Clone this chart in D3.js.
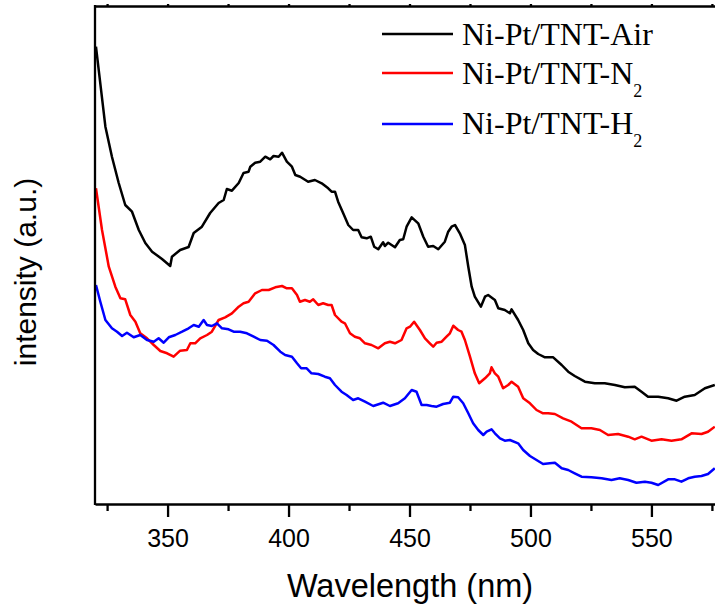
<!DOCTYPE html>
<html>
<head>
<meta charset="utf-8">
<script src="https://cdn.jsdelivr.net/npm/d3@7"></script>
<style>
  body { margin: 0; background: #fff; }
  svg { display: block; }
  .tick text { font-family: "Liberation Sans", Arial, sans-serif; }
</style>
</head>
<body>
<div id="chart"></div>
<script>
// series names for the legend (base text + subscript)
const seriesNames = [["Ni-Pt/TNT-Air", ""], ["Ni-Pt/TNT-N", "2"], ["Ni-Pt/TNT-H", "2"]];
const seriesColors = ["#000000", "#ff0000", "#0000ff"];

// x tick labels
const majorTicks = [350, 400, 450, 500, 550];
const minorTicks = [325, 375, 425, 475, 525, 575];

// Air treated sample
const airWl = [320.4, 324.3, 327.0, 329.8, 332.5, 335.3, 338.1, 340.8, 343.6, 347.7, 351.1, 351.8,
  355.2, 358.7, 360.8, 364.2, 367.6, 371.1, 373.2, 374.5, 376.6, 379.4, 381.4, 383.5, 384.2, 386.2,
  388.3, 390.4, 392.4, 393.8, 395.9, 397.3, 399.3, 401.4, 402.8, 404.8, 408.1, 410.9, 413.7, 416.4,
  417.8, 419.2, 420.5, 422.6, 424.7, 426.7, 428.8, 430.2, 432.3, 434.0, 435.4, 437.1, 439.1, 439.8,
  441.2, 444.0, 446.0, 447.4, 448.8, 450.9, 453.6, 455.7, 457.7, 459.8, 461.9, 464.6, 466.0, 467.4,
  468.8, 470.8, 472.9, 474.3, 475.7, 477.0, 479.5, 481.2, 482.5, 485.3, 486.7, 489.4, 491.5, 492.2,
  494.9, 497.0, 499.1, 501.1, 503.2, 506.0, 509.4, 512.9, 515.6, 518.3, 522.5, 526.6, 530.7, 534.9,
  539.0, 543.1, 545.9, 548.6, 552.8, 556.9, 560.4, 563.8, 567.9, 572.1, 576.2];
const airInt = [457.3, 377.3, 347.3, 321, 299, 292.3, 274, 261, 252.3, 245, 238, 247.3,
  254, 257, 271, 277.3, 291, 301, 304, 315, 313.3, 321, 331, 332.3, 337.3, 341.3,
  342.3, 347.3, 344.7, 348, 347.3, 351.3, 342.3, 337.3, 329, 327.3, 322.3, 324, 320.7, 315.7,
  312.3, 312.3, 302.3, 290.7, 279, 274, 274, 266.7, 265.7, 267.3, 257.3, 254.7, 261.7, 258,
  261.3, 256.7, 264, 264.7, 277.3, 286.7, 280.7, 267.3, 257.3, 258, 254.7, 262.3, 272.3, 277.3,
  279, 270.7, 259, 237.3, 217.3, 207.3, 197.3, 207.3, 209, 204, 195.7, 194, 190.7, 194.7,
  184, 174, 160.7, 154, 150, 146.7, 146.7, 139, 132.3, 128, 122.3, 120.7, 120.7, 119,
  116.7, 117.3, 112.3, 107.3, 107.3, 105.7, 103.3, 107.3, 109, 115.7, 119];

// N2 treated sample
const n2Wl = [320.4, 322.9, 325.7, 328.4, 330.5, 332.5, 334.6, 336.7, 338.7, 341.5, 344.3, 347.0,
  349.8, 352.5, 355.2, 358.0, 359.4, 361.4, 363.5, 366.3, 368.3, 371.1, 373.8, 376.6, 379.4, 381.4,
  383.5, 386.2, 389.0, 391.8, 394.5, 397.3, 399.3, 401.4, 403.5, 404.7, 406.8, 408.8, 410.2, 412.3,
  414.3, 416.4, 417.8, 419.2, 421.9, 423.3, 425.4, 427.4, 429.5, 431.6, 434.3, 437.1, 439.8, 441.9,
  444.0, 446.7, 448.8, 450.2, 451.9, 454.3, 456.4, 458.4, 459.8, 461.2, 463.3, 465.3, 466.7, 468.1,
  470.1, 471.5, 472.9, 475.0, 477.0, 478.8, 481.2, 483.2, 483.9, 485.3, 486.7, 488.7, 490.8, 492.2,
  494.9, 497.0, 499.8, 502.5, 505.2, 507.3, 510.1, 513.5, 517.0, 521.1, 525.2, 528.7, 532.1, 536.2,
  540.4, 543.1, 545.9, 550.0, 554.2, 558.3, 562.4, 566.6, 570.7, 573.4, 576.2];
const n2Int = [315.7, 274, 237.3, 217.3, 205.7, 204.7, 189, 182.3, 170.7, 165.7, 159, 153,
  150.7, 147.3, 153.3, 154, 160.7, 160.7, 165.7, 169, 172.3, 184, 186.7, 190.7, 197.3, 200.7,
  202.3, 210.7, 214, 214, 216.7, 218, 215.7, 215.7, 209, 202.3, 204, 202.3, 204.7, 199,
  200.7, 199, 199, 189, 182.3, 180.7, 170.7, 167.3, 165.7, 160.7, 159, 155.7, 160.7, 162.3,
  160.7, 164, 175.7, 177.3, 182.3, 174, 165.7, 160.7, 157.3, 161.3, 162.3, 167.3, 170.7, 178.3,
  174, 172.3, 164, 147.3, 130.7, 120.7, 125.7, 130.7, 136.7, 130.7, 127.3, 115.7, 119, 122.3,
  117.3, 105.7, 100.7, 94, 90.7, 90.7, 90, 85.7, 82.3, 75.7, 75.7, 74, 69, 70,
  67.3, 64.7, 67.3, 63.3, 64.7, 63.3, 64.7, 70.7, 70, 72.3, 77.3];

// H2 treated sample
const h2Wl = [320.4, 322.2, 324.3, 327.0, 329.1, 331.2, 333.2, 336.0, 338.7, 341.5, 344.3, 346.3,
  348.4, 350.5, 353.2, 356.0, 358.7, 360.8, 362.9, 364.9, 366.3, 368.3, 370.4, 372.5, 375.2, 377.3,
  380.0, 382.8, 385.6, 388.3, 391.1, 393.8, 396.6, 398.6, 401.4, 403.5, 405.2, 407.5, 409.5, 412.3,
  415.0, 417.1, 419.2, 421.9, 424.0, 426.7, 428.8, 431.6, 435.0, 439.1, 441.9, 445.3, 448.1, 450.9,
  452.9, 455.0, 457.1, 459.1, 461.2, 463.9, 466.7, 468.1, 470.1, 472.2, 474.3, 476.3, 478.4, 480.5,
  481.9, 483.9, 485.3, 487.4, 489.4, 491.5, 494.9, 497.0, 499.8, 502.5, 505.2, 508.0, 510.1, 512.9,
  515.6, 518.3, 521.1, 525.2, 529.4, 533.5, 536.9, 540.4, 543.8, 547.3, 550.0, 552.8, 556.9, 559.7,
  562.4, 565.2, 567.9, 570.7, 573.4, 576.2];
const h2Int = [219, 202.3, 184, 175.7, 172.3, 168, 171.3, 166.7, 169, 164, 162.3, 165.7,
  161.3, 166.7, 169, 172.3, 175.7, 179, 177.3, 184, 179, 178, 180.7, 175.7, 174.7, 172.3,
  172.3, 170.7, 167.3, 164, 163.3, 159, 152.3, 149, 147.3, 140.7, 135.7, 135.7, 130.7, 130,
  127.3, 125.7, 119, 112.3, 109, 104, 105.7, 102.3, 98, 101.3, 98, 100.7, 105.7, 114,
  112.3, 99, 99, 98, 97.3, 100, 101.3, 107.3, 106.7, 100.7, 90.7, 80.7, 74, 69,
  72.3, 74.7, 70.7, 65.7, 63.3, 64, 60.7, 54, 48, 44, 40, 40.7, 41.3, 35.7,
  34, 30.7, 27.3, 26.7, 25.7, 24, 25.7, 24, 21.3, 22.3, 21.3, 19, 24.7, 24.7,
  22.3, 25.7, 27.3, 28, 30, 35.7];

const series = [
  { wl: airWl, val: airInt },
  { wl: n2Wl, val: n2Int },
  { wl: h2Wl, val: h2Int }
];

// frame of the plot (right edge runs past the picture)
const plotLeft = 95, plotTop = 6, plotBottom = 504, plotRight = 724;

let svg = d3.select("#chart").append("svg")
  .attr("width", 715)
  .attr("height", 607);

// set the ranges
let x = d3.scaleLinear().domain([320, 580]).range([plotLeft, plotRight]);
let y = d3.scaleLinear().domain([0, 498]).range([plotBottom, plotTop]);

// define the line
let valueline = d3.line()
  .x(d => x(d[0]))
  .y(d => y(d[1]));

// the curves
series.forEach((s, i) => {
  svg.append("path")
    .datum(d3.zip(s.wl, s.val))
    .attr("fill", "none")
    .attr("stroke", seriesColors[i])
    .attr("stroke-width", 2.5)
    .attr("stroke-linejoin", "round")
    .attr("d", valueline);
});

// minor ticks on the bottom
svg.append("g")
  .attr("transform", "translate(0," + plotBottom + ")")
  .call(d3.axisBottom(x).tickValues(minorTicks).tickSize(7).tickFormat(""))
  .call(g => g.select(".domain").remove())
  .call(g => g.selectAll("line").attr("stroke-width", 2.3));

// Add the X Axis
svg.append("g")
  .attr("transform", "translate(0," + plotBottom + ")")
  .call(d3.axisBottom(x).tickValues(majorTicks).tickSize(13).tickPadding(12).tickSizeOuter(0))
  .call(g => g.select(".domain").attr("stroke-width", 2.3))
  .call(g => g.selectAll("line").attr("stroke-width", 2.3))
  .call(g => g.selectAll("text").attr("font-size", 25).attr("fill", "#000"));

// top axis, only tiny tick stubs show
svg.append("g")
  .attr("transform", "translate(0," + plotTop + ")")
  .call(d3.axisTop(x).tickValues(majorTicks.concat(minorTicks)).tickSize(2).tickFormat("").tickSizeOuter(0))
  .call(g => g.selectAll("path, line").attr("stroke-width", 2.3));

// left axis line
svg.append("line")
  .attr("x1", plotLeft).attr("x2", plotLeft)
  .attr("y1", plotTop - 1).attr("y2", plotBottom + 1)
  .attr("stroke", "#000")
  .attr("stroke-width", 2.3);

// axis titles
svg.append("text")
  .attr("x", 410)
  .attr("y", 597)
  .attr("text-anchor", "middle")
  .attr("font-family", "Liberation Sans, Arial, sans-serif")
  .attr("font-size", 32.5)
  .text("Wavelength (nm)");

svg.append("text")
  .attr("transform", "translate(36,272) rotate(-90)")
  .attr("text-anchor", "middle")
  .attr("font-family", "Liberation Sans, Arial, sans-serif")
  .attr("font-size", 30)
  .text("intensity (a.u.)");

// legend
const legendLineY = [34, 73, 124];
const legendTextY = [45, 84, 134];
seriesNames.forEach((name, i) => {
  svg.append("line")
    .attr("x1", 382).attr("x2", 453)
    .attr("y1", legendLineY[i]).attr("y2", legendLineY[i])
    .attr("stroke", seriesColors[i])
    .attr("stroke-width", 2.5);
  let t = svg.append("text")
    .attr("x", 462)
    .attr("y", legendTextY[i])
    .attr("font-family", "Liberation Serif, Times New Roman, serif")
    .attr("font-size", 32);
  t.append("tspan").text(name[0]);
  if (name[1]) {
    t.append("tspan")
      .attr("font-size", 18)
      .attr("dy", 13)
      .text(name[1]);
  }
});
</script>
</body>
</html>
